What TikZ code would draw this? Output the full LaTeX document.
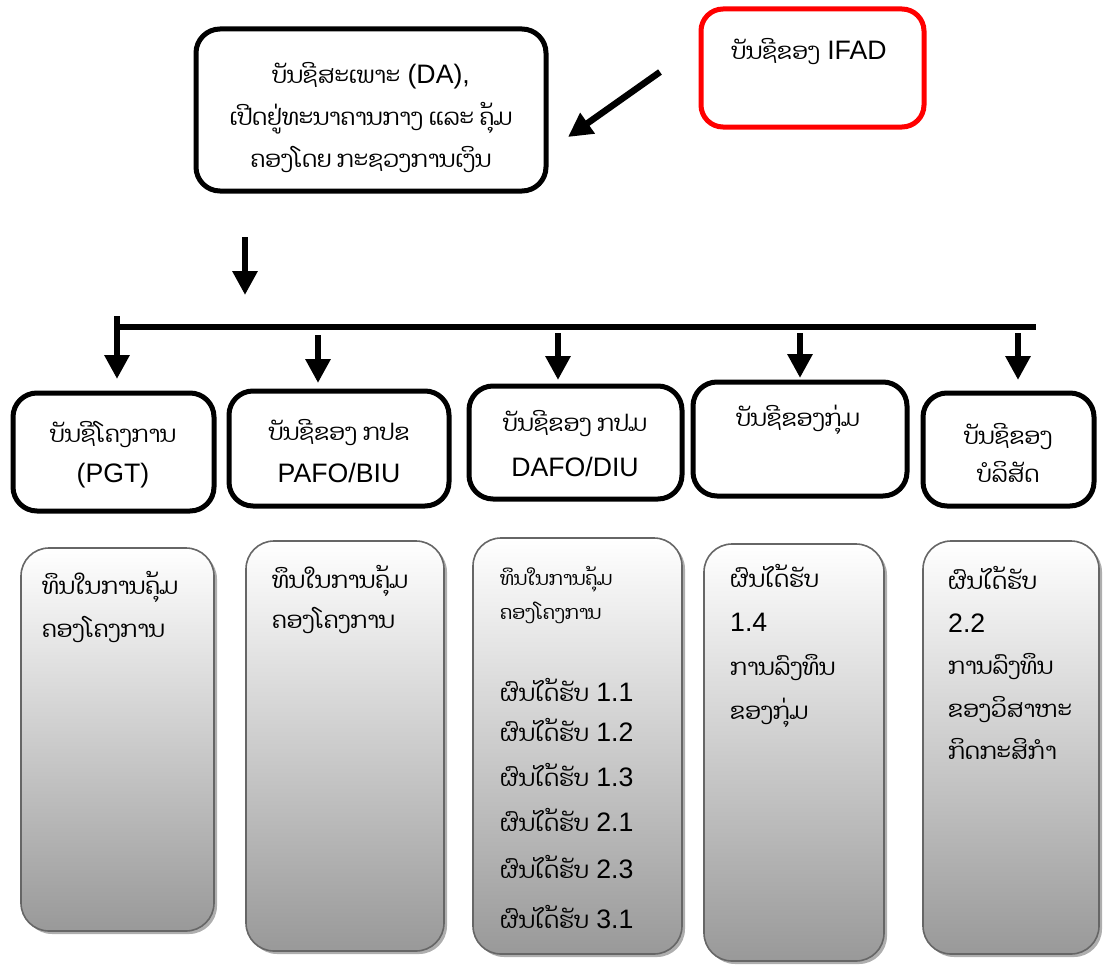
\documentclass[tikz,border=0pt]{standalone}
\usepackage{fontspec}
\setmainfont{Liberation Sans}[Scale=1.16]
\newfontfamily\lao[Script=Lao]{Dhyana}
\usetikzlibrary{arrows.meta,shadows}
\tikzset{
  topbox/.style={draw=black, line width=5pt, rounded corners=24pt, fill=white},
  redbox/.style={draw=red, line width=5pt, rounded corners=22pt, fill=white},
  gbox/.style={draw=black!60, line width=1.6pt, rounded corners=28pt,
    top color=white, bottom color=black!40,
    drop shadow={shadow xshift=3pt, shadow yshift=-3pt, fill=black!45, opacity=0.7}},
  txt/.style={font=\fontsize{23}{42}\selectfont, inner sep=0pt, align=center},
  ltxt/.style={font=\fontsize{23}{43}\selectfont, inner sep=0pt, align=left, anchor=west},
  bigarrow/.style={line width=6.5pt, -{Triangle[width=24pt,length=24pt]}},
  bar/.style={line width=6.5pt}
}
\begin{document}
\begin{tikzpicture}[x=1pt,y=-1pt]
\useasboundingbox (0,0) rectangle (1105,966);
% top boxes
\node[topbox, minimum width=350pt, minimum height=162pt] (da) at (371,110) {};
\node[txt] (datxt) at (371,118) {{\lao ບັນຊີສະເພາະ} (DA),\\{\lao ເປີດຢູ່ທະນາຄານກາງ ແລະ ຄຸ້ມ}\\{\lao ຄອງໂດຍ ກະຊວງການເງິນ}};
\node[redbox, minimum width=223pt, minimum height=118pt] (ifad) at (812.5,68) {};
\node[txt] (ifadtxt) at (809,52) {{\lao ບັນຊີຂອງ} IFAD};
% arrow from IFAD
\coordinate (ia) at (660,72);
\coordinate (ib) at (568,137);
\draw[bigarrow] (ia) -- (ib);
% down arrow
\coordinate (da1) at (245,237);
\coordinate (da2) at (245,295);
\draw[bigarrow] (da1) -- (da2);
% bar
\coordinate (barL) at (117,327);
\coordinate (barR) at (1036,327);
\draw[bar] (barL) -- (barR);
\coordinate (a1s) at (117,316);
\coordinate (a1e) at (117,379);
\draw[bigarrow] (a1s) -- (a1e);
\coordinate (a2s) at (318,335);
\coordinate (a2e) at (318,383);
\draw[bigarrow] (a2s) -- (a2e);
\coordinate (a3s) at (558,333);
\coordinate (a3e) at (558,380);
\draw[bigarrow] (a3s) -- (a3e);
\coordinate (a4s) at (800,333);
\coordinate (a4e) at (800,378);
\draw[bigarrow] (a4s) -- (a4e);
\coordinate (a5s) at (1018,333);
\coordinate (a5e) at (1018,380);
\draw[bigarrow] (a5s) -- (a5e);
% second row boxes
\node[topbox, minimum width=201pt, minimum height=118pt] (b1) at (113.5,452) {};
\node[txt, font=\fontsize{23}{40}\selectfont] (b1t) at (113,455) {{\lao ບັນຊີໂຄງການ}\\(PGT)};
\node[topbox, minimum width=220pt, minimum height=115pt] (b2) at (339,448.5) {};
\node[txt] (b2t) at (339,451) {{\lao ບັນຊີຂອງ ກປຂ}\\PAFO/BIU};
\node[topbox, minimum width=213pt, minimum height=113pt] (b3) at (575.5,442.5) {};
\node[txt, font=\fontsize{23}{45}\selectfont] (b3t) at (575,444) {{\lao ບັນຊີຂອງ ກປມ}\\DAFO/DIU};
\node[topbox, minimum width=214pt, minimum height=114pt] (b4) at (800,439) {};
\node[txt] (b4t) at (798,420) {{\lao ບັນຊີຂອງກຸ່ມ}};
\node[topbox, minimum width=171pt, minimum height=113pt] (b5) at (1008.5,449.5) {};
\node[txt, font=\fontsize{23}{38}\selectfont] (b5t) at (1008,453) {{\lao ບັນຊີຂອງ}\\{\lao ບໍລິສັດ}};
% bottom gradient boxes
\node[gbox, minimum width=193pt, minimum height=383pt] (g1) at (117.5,739.5) {};
\node[ltxt] (g1t) at (42,607) {{\lao ທຶນໃນການຄຸ້ມ}\\{\lao ຄອງໂຄງການ}};
\node[gbox, minimum width=198pt, minimum height=410pt] (g2) at (345,746) {};
\node[ltxt, font=\fontsize{23}{40}\selectfont] (g2t) at (272,600) {{\lao ທຶນໃນການຄຸ້ມ}\\{\lao ຄອງໂຄງການ}};
\node[gbox, minimum width=209pt, minimum height=416pt] (g3) at (577.5,746) {};
\node[ltxt, font=\fontsize{19}{34}\selectfont] (g3t) at (500,595) {{\lao ທຶນໃນການຄຸ້ມ}\\{\lao ຄອງໂຄງການ}};
\node[ltxt] (g3a) at (500,690) {{\lao ຜົນໄດ້ຮັບ} 1.1};
\node[ltxt] (g3b) at (500,730) {{\lao ຜົນໄດ້ຮັບ} 1.2};
\node[ltxt] (g3c) at (500,775) {{\lao ຜົນໄດ້ຮັບ} 1.3};
\node[ltxt] (g3d) at (500,820) {{\lao ຜົນໄດ້ຮັບ} 2.1};
\node[ltxt] (g3e) at (500,867) {{\lao ຜົນໄດ້ຮັບ} 2.3};
\node[ltxt] (g3f) at (500,917) {{\lao ຜົນໄດ້ຮັບ} 3.1};
\node[gbox, minimum width=180pt, minimum height=417pt] (g4) at (794,752.5) {};
\node[ltxt, font=\fontsize{23}{44}\selectfont] (g4t) at (730,646) {{\lao ຜົນໄດ້ຮັບ}\\1.4\\{\lao ການລົງທຶນ}\\{\lao ຂອງກຸ່ມ}};
\node[gbox, minimum width=176pt, minimum height=413pt] (g5) at (1011,747.5) {};
\node[ltxt, font=\fontsize{23}{42.5}\selectfont] (g5t) at (948,663) {{\lao ຜົນໄດ້ຮັບ}\\2.2\\{\lao ການລົງທຶນ}\\{\lao ຂອງວິສາຫະ}\\{\lao ກິດກະສິກຳ}};
\end{tikzpicture}
\end{document}
